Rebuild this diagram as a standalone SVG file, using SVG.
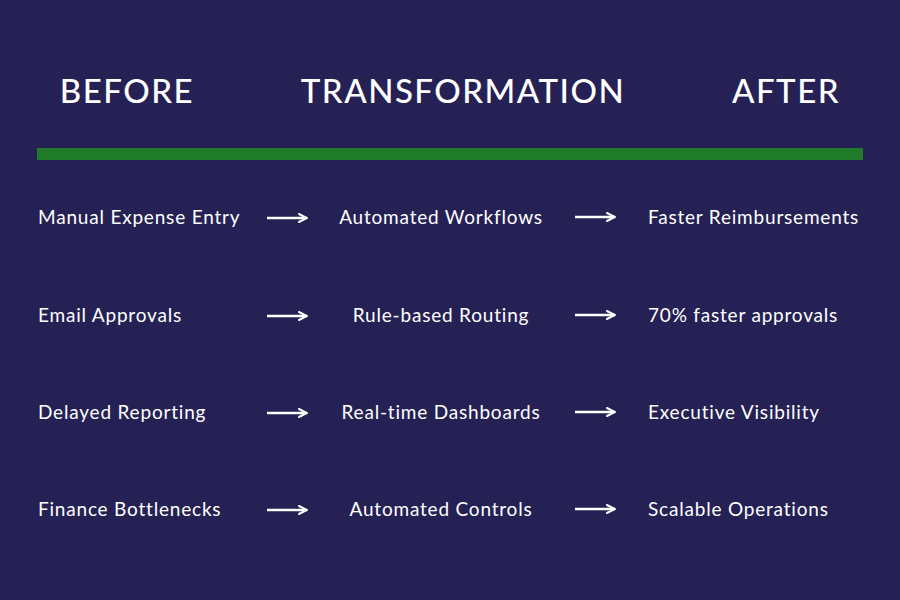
<svg xmlns="http://www.w3.org/2000/svg" width="900" height="600" viewBox="0 0 900 600">
<defs>
<marker id="ah" viewBox="0 0 10 10" refX="9" refY="5" markerWidth="4" markerHeight="4" orient="auto"><path d="M1,1 L9,5 L1,9" fill="none" stroke="#fff" stroke-width="2" stroke-linecap="round"/></marker>
<style>
.h{font-family:Lato,"Noto Sans",sans-serif;font-size:33px;fill:#fff;letter-spacing:1.5px;font-weight:500}
.t{font-family:Lato,"Noto Sans",sans-serif;font-size:19px;fill:#fff;letter-spacing:0.8px}
.a{stroke:#fff;stroke-width:2.5;fill:none;marker-end:url(#ah)}
</style>
</defs>
<rect width="900" height="600" fill="#252155"/>
<g id="headers">
<text class="h" x="127" y="103" text-anchor="middle">BEFORE</text>
<text class="h" x="463" y="103" text-anchor="middle">TRANSFORMATION</text>
<text class="h" x="786" y="103" text-anchor="middle">AFTER</text>
</g>
<rect id="bar" x="37" y="148" width="826" height="12" fill="#1f7a2a"/>
<g id="before">
<text class="t" x="38" y="224">Manual Expense Entry</text>
<text class="t" x="38" y="322">Email Approvals</text>
<text class="t" x="38" y="419">Delayed Reporting</text>
<text class="t" x="38" y="516">Finance Bottlenecks</text>
</g>
<g id="transformation">
<text class="t" x="441" y="224" text-anchor="middle">Automated Workflows</text>
<text class="t" x="441" y="322" text-anchor="middle">Rule-based Routing</text>
<text class="t" x="441" y="419" text-anchor="middle">Real-time Dashboards</text>
<text class="t" x="441" y="516" text-anchor="middle">Automated Controls</text>
</g>
<g id="after">
<text class="t" x="648" y="224">Faster Reimbursements</text>
<text class="t" x="648" y="322">70% faster approvals</text>
<text class="t" x="648" y="419">Executive Visibility</text>
<text class="t" x="648" y="516">Scalable Operations</text>
</g>
<g id="connectors">
<line class="a" x1="267" y1="218" x2="307" y2="218"/>
<line class="a" x1="267" y1="316" x2="307" y2="316"/>
<line class="a" x1="267" y1="413" x2="307" y2="413"/>
<line class="a" x1="267" y1="510" x2="307" y2="510"/>
<line class="a" x1="575" y1="217" x2="615" y2="217"/>
<line class="a" x1="575" y1="315" x2="615" y2="315"/>
<line class="a" x1="575" y1="412" x2="615" y2="412"/>
<line class="a" x1="575" y1="509" x2="615" y2="509"/>
</g>
</svg>
